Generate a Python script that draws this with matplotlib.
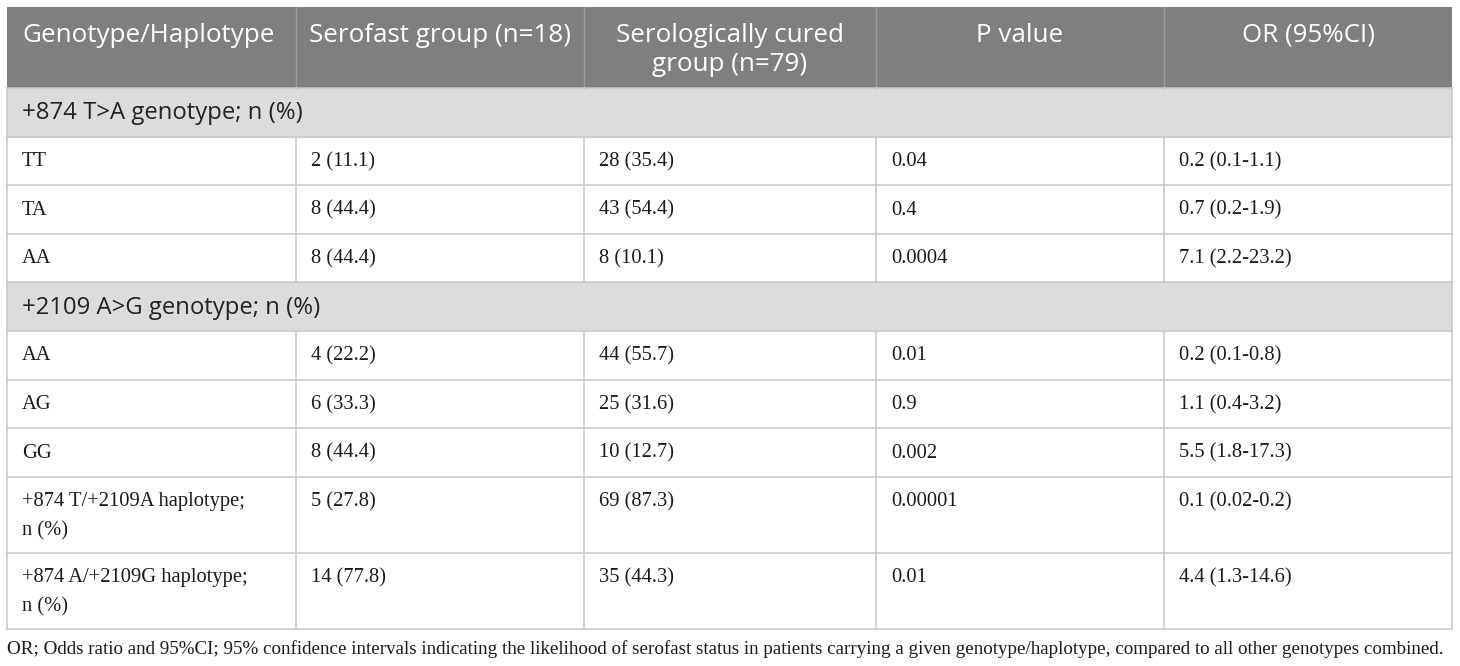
#!/usr/bin/env python3
"""
Table of genotype / haplotype frequencies, serofast vs serologically cured
"""
import matplotlib
matplotlib.use("Agg")
import matplotlib.pyplot as plt
from matplotlib.patches import Rectangle

# ---- data ----
header = ["Genotype/Haplotype", "Serofast group (n=18)",
          "Serologically cured\ngroup (n=79)", "P value", "OR (95%CI)"]

section_874 = "+874 T>A genotype; n (%)"
labels_874 = ["TT", "TA", "AA"]
serofast_874 = ["2 (11.1)", "8 (44.4)", "8 (44.4)"]
cured_874 = ["28 (35.4)", "43 (54.4)", "8 (10.1)"]
pvalue_874 = ["0.04", "0.4", "0.0004"]
oddsratio_874 = ["0.2 (0.1-1.1)", "0.7 (0.2-1.9)", "7.1 (2.2-23.2)"]

section_2109 = "+2109 A>G genotype; n (%)"
labels_2109 = ["AA", "AG", "GG",
               "+874 T/+2109A haplotype;\nn (%)",
               "+874 A/+2109G haplotype;\nn (%)"]
serofast_2109 = ["4 (22.2)", "6 (33.3)", "8 (44.4)", "5 (27.8)", "14 (77.8)"]
cured_2109 = ["44 (55.7)", "25 (31.6)", "10 (12.7)", "69 (87.3)", "35 (44.3)"]
pvalue_2109 = ["0.01", "0.9", "0.002", "0.00001", "0.01"]
oddsratio_2109 = ["0.2 (0.1-0.8)", "1.1 (0.4-3.2)", "5.5 (1.8-17.3)",
                  "0.1 (0.02-0.2)", "4.4 (1.3-14.6)"]

footnote = ("OR; Odds ratio and 95%CI; 95% confidence intervals indicating the "
            "likelihood of serofast status in patients carrying a given "
            "genotype/haplotype, compared to all other genotypes combined.")

# ---- layout (pixels) ----
W, H = 1460, 666
col_x = [7, 296, 584, 876, 1164, 1452]
top = 7
header_h = 81
row_h = 48.6
two_line_h = 76
line_gap = 29
pad_x = 15
first_line = 25

header_bg = "#7f7f7f"
section_bg = "#dcdcdc"
grid = "#c6c6c6"
sans = ["Open Sans", "DejaVu Sans"]
serif = ["Liberation Serif", "DejaVu Serif"]


def put_lines(ax, x, y0, text, **kw):
    for i, line in enumerate(text.split("\n")):
        ax.text(x, y0 + i * line_gap, line, va="center", **kw)


fig = plt.figure(figsize=(W / 100, H / 100), dpi=100)
ax = fig.add_axes([0, 0, 1, 1])
ax.set_xlim(0, W)
ax.set_ylim(H, 0)
ax.axis("off")

# header
ax.add_patch(Rectangle((col_x[0], top), col_x[-1] - col_x[0], header_h,
                       facecolor=header_bg, edgecolor="none"))
for i, name in enumerate(header):
    if i == 0:
        put_lines(ax, col_x[0] + pad_x, top + 28.5, name, ha="left",
                  color="white", fontsize=18.7, family=sans)
    else:
        put_lines(ax, (col_x[i] + col_x[i + 1]) / 2, top + 28.5, name,
                  ha="center", color="white", fontsize=18.7, family=sans)
for x in col_x[1:-1]:
    ax.plot([x, x], [top, top + header_h], color="#9c9c9c", lw=1.0)

y = top + header_h
hlines = [y]
vsegs = []
for sec, labels, c1, c2, c3, c4 in [
        (section_874, labels_874, serofast_874, cured_874, pvalue_874, oddsratio_874),
        (section_2109, labels_2109, serofast_2109, cured_2109, pvalue_2109, oddsratio_2109)]:
    ax.add_patch(Rectangle((col_x[0], y), col_x[-1] - col_x[0], row_h,
                           facecolor=section_bg, edgecolor="none"))
    put_lines(ax, col_x[0] + pad_x, y + row_h / 2 + 1, sec, ha="left",
              color="#222222", fontsize=17.2, family=sans)
    y += row_h
    hlines.append(y)
    for k, lab in enumerate(labels):
        h = two_line_h if "\n" in lab else row_h
        cells = [lab, c1[k], c2[k], c3[k], c4[k]]
        for j, cell in enumerate(cells):
            put_lines(ax, col_x[j] + pad_x, y + first_line, cell, ha="left",
                      color="#1a1a1a", fontsize=14.8, family=serif)
        vsegs.append((y, y + h))
        y += h
        hlines.append(y)

for yy in hlines:
    ax.plot([col_x[0], col_x[-1]], [yy, yy], color=grid, lw=1.1)
for y0, y1 in vsegs:
    for x in col_x:
        ax.plot([x, x], [y0, y1], color=grid, lw=1.1)
ax.plot([col_x[0], col_x[0]], [top + header_h, top + header_h + row_h],
        color=grid, lw=1.1)
ax.plot([col_x[-1], col_x[-1]], [top + header_h, top + header_h + row_h],
        color=grid, lw=1.1)
sec2_top = top + header_h + 4 * row_h
ax.plot([col_x[0], col_x[0]], [sec2_top, sec2_top + row_h], color=grid, lw=1.1)
ax.plot([col_x[-1], col_x[-1]], [sec2_top, sec2_top + row_h], color=grid, lw=1.1)

ax.text(col_x[0], y + 20, footnote, ha="left", va="center",
        color="#1a1a1a", fontsize=13.65, family=serif)

fig.savefig("out.png", dpi=100)
